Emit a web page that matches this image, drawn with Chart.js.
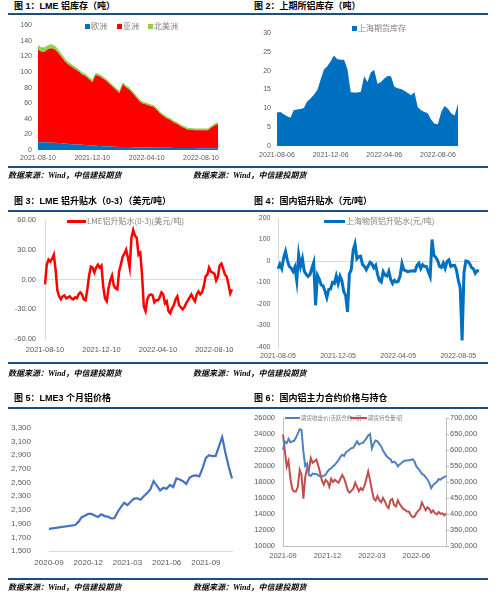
<!DOCTYPE html>
<html lang="zh-CN">
<head>
<meta charset="utf-8">
<title>铝市场数据</title>
<script src="https://cdn.jsdelivr.net/npm/chart.js@4.4.0/dist/chart.umd.min.js"></script>
<style>
  html, body { margin: 0; padding: 0; background: #fff; }
  #page { position: relative; width: 500px; height: 600px; overflow: hidden; }
  #page canvas { position: absolute; }
  .title { position: absolute; font: bold 9px "Liberation Sans", "Noto Sans CJK SC", sans-serif; color: #000; white-space: nowrap; line-height: 10px; }
  .rule { position: absolute; left: 8px; width: 480px; height: 2px; background: #1f4e79; }
  .source { position: absolute; font: italic bold 8px "Liberation Serif", "Noto Sans CJK SC", serif; color: #000; white-space: nowrap; line-height: 9px; }
  .legend { position: absolute; font: 8px "Noto Sans CJK SC", sans-serif; color: #7f7f7f; white-space: nowrap; line-height: 10px; display: flex; align-items: center; }
  .sw { display: inline-block; width: 5px; height: 5px; margin-right: 1px; }
  .ln { display: inline-block; height: 3px; margin-right: 1px; }
</style>
</head>
<body>
<div id="page">
  <!-- fila 1 -->
  <div class="title" style="left:14px;top:1px">图 1：LME 铝库存（吨）</div>
  <div class="title" style="left:254px;top:1px">图 2：上期所铝库存（吨）</div>
  <div class="rule" style="top:13px"></div>
  <canvas id="c1" width="240" height="155" style="left:0;top:15px"></canvas>
  <canvas id="c2" width="225" height="155" style="left:250px;top:15px"></canvas>
  <div class="legend" style="left:85px;top:21px"><i class="sw" style="background:#0070c0"></i>欧洲</div>
  <div class="legend" style="left:117px;top:21px"><i class="sw" style="background:#ff0000"></i>亚洲</div>
  <div class="legend" style="left:148px;top:21px"><i class="sw" style="background:#92d050"></i>北美洲</div>
  <div class="legend" style="left:352px;top:23px"><i class="sw" style="background:#0070c0"></i>上海期货库存</div>
  <div class="rule" style="top:166px"></div>
  <div class="source" style="left:8px;top:171px">数据来源：Wind，中信建投期货</div>
  <div class="source" style="left:193px;top:171px">数据来源：Wind，中信建投期货</div>

  <!-- fila 2 -->
  <div class="title" style="left:14px;top:196px">图 3：LME 铝升贴水（0-3）（美元/吨）</div>
  <div class="title" style="left:254px;top:196px">图 4：国内铝升贴水（元/吨）</div>
  <div class="rule" style="top:210px"></div>
  <canvas id="c3" width="245" height="165" style="left:0;top:205px"></canvas>
  <canvas id="c4" width="240" height="165" style="left:250px;top:205px"></canvas>
  <div class="legend" style="left:67px;top:216px"><i class="ln" style="width:19px;background:#ff0000"></i>LME铝升贴水(0-3)(美元/吨)</div>
  <div class="legend" style="left:324px;top:216px"><i class="ln" style="width:21px;background:#0070c0"></i>上海物贸铝升贴水(元/吨)</div>
  <div class="rule" style="top:362px"></div>
  <div class="source" style="left:8px;top:369px">数据来源：Wind，中信建投期货</div>
  <div class="source" style="left:193px;top:369px">数据来源：Wind，中信建投期货</div>

  <!-- fila 3 -->
  <div class="title" style="left:14px;top:393px">图 5：LME3 个月铝价格</div>
  <div class="title" style="left:254px;top:393px">图 6：国内铝主力合约价格与持仓</div>
  <div class="rule" style="top:407px"></div>
  <canvas id="c5" width="245" height="170" style="left:0;top:405px"></canvas>
  <canvas id="c6" width="240" height="170" style="left:250px;top:405px"></canvas>
  <div class="legend" style="left:285px;top:413px;font-size:5.5px"><i class="ln" style="width:15px;height:2px;background:#4f81bd"></i>期货收盘价(活跃合约):铝</div>
  <div class="legend" style="left:350px;top:413px;font-size:5.5px"><i class="ln" style="width:17px;height:2px;background:#c0504d"></i>期货持仓量:铝</div>
  <div class="rule" style="top:578px"></div>
  <div class="source" style="left:8px;top:583px">数据来源：Wind，中信建投期货</div>
  <div class="source" style="left:193px;top:583px">数据来源：Wind，中信建投期货</div>
</div>

<script>
// ============================================================
// 1. DATOS
// ============================================================

// Fig 1: LME inventario, cada 1/4 de mes desde 2021-08-10
const lmeStockTicks = ['2021-08-10', '2021-12-10', '2022-04-10', '2022-08-10'];
const lmeEurope = [10, 10, 9.8, 9.6, 9.4, 9.2, 9, 8.6, 8.2, 7.8, 7.5, 7.2, 6.9, 6.6, 6.3, 6, 5.7, 5.4, 5.1, 4.9,
  4.7, 4.5, 4.3, 4.1, 4, 3.9, 3.8, 3.7, 3.6, 3.5, 3.4, 3.3, 3.2, 3.1, 3, 3, 2.9, 2.9, 2.8, 2.8,
  2.7, 2.7, 2.6, 2.6, 2.5, 2.5, 2.5, 2.4, 2.4, 2.4, 2.3, 2.3, 2.3, 2.3];
const lmeAsia = [119, 116, 116.2, 119.9, 121.1, 119.8, 115.5, 110.4, 104.8, 101.4, 98.9, 96.3, 93.7, 90.1, 88.5,
  84.9, 81.3, 90.6, 89.9, 87.1, 84.3, 80.5, 76.7, 72.9, 69, 80.1, 76.2, 73.3, 68.4, 63.5,
  58.6, 56.1, 55.2, 53.3, 52.4, 48.4, 43.5, 40.5, 37.6, 35.6, 32.7, 30.7, 27.8, 25.8, 23.9,
  23.4, 22.9, 23, 23, 23, 23.1, 26.1, 29.1, 31.1];
const lmeNorthAmerica = [5, 5, 5, 4.5, 4.5, 4, 3.5, 3, 3, 2.8, 2.6, 2.5, 2.4, 2.3, 2.2, 2.1, 2, 2, 2, 2,
  2, 2, 2, 2, 2, 2, 2, 2, 2, 2, 2, 1.6, 1.6, 1.6, 1.6, 1.6, 1.6, 1.6, 1.6, 1.6,
  1.6, 1.6, 1.6, 1.6, 1.6, 1.6, 1.6, 1.6, 1.6, 1.6, 1.6, 1.6, 1.6, 1.6];

// Fig 2: SHFE inventario, cada 1/4 de mes desde 2021-08-06
const shfeStockTicks = ['2021-08-06', '2021-12-06', '2022-04-06', '2022-08-06'];
const shfeStock = [8.9, 9.0, 8.4, 7.9, 7.5, 9.5, 9.7, 9.8, 10.1, 11.8, 12.6, 13.6, 14.8, 17.6, 20.3,
  21.2, 22.5, 24.0, 23.0, 22.9, 22.9, 20.5, 14.3, 14.2, 14.2, 14.4, 18.5, 17.0, 19.6, 20.2,
  16.5, 17.0, 17.9, 18.6, 18.5, 15.7, 15.3, 15.1, 14.7, 14.1, 13.5, 14.3, 10.3, 9.5, 9.0,
  8.7, 7.0, 5.9, 5.8, 9.0, 10.6, 9.9, 8.6, 8.1, 11.2];

// Fig 3: LME升贴水 (0-3), cada 1/8 de mes desde 2021-08-10
const lmeSpreadTicks = ['2021-08-10', '2021-12-10', '2022-04-10', '2022-08-10'];
const lmeSpread = [-5, 15, 20, 18, 21, 25, 10, -11, -17, -20,
  -17, -16, -19, -18, -17, -19, -20, -18, -19, -15,
  -13, -15, -20, -21, -10, 4, 13, 12, 7, 12,
  15, 12, 14, -7, -19, -22, -9, -1, 4, -6,
  -9, -10, 8, 15, 23, 26, 30, 22, 12, 42,
  50, 44, 42, 25, 27, 5, -27, -32, -20, -16,
  -15, -16, -23, -21, -21, -18, -13, -15, -24, -22,
  -32, -34, -29, -26, -20, -17, -26, -28, -30, -28,
  -24, -21, -18, -15, -19, -22, -15, -12, -15, -13,
  -7, 3, 5, 12, 8, 7, 6, -1, 3, 14,
  16, 11, 5, 3, -5, -14, -10];

// Fig 4: 上海物贸升贴水, cada 1/8 de mes desde 2021-08-05
const shSpreadTicks = ['2021-08-05', '2021-12-05', '2022-04-05', '2022-08-05'];
const shSpread = [-36, -15, -35, 15, 45, 3, -25, -33, -48, -28,
  -92, 30, -25, 11, -48, -62, -72, -64, -35, -8,
  -206, -67, -85, -111, -115, -140, -170, -132, -130, -100,
  -105, -70, -105, -70, -92, -142, -160, -237, -60, -40,
  50, 80, 10, 20, 22, -17, -25, -41, -23, -6,
  -13, -32, -20, -62, -90, -98, -50, -66, -70, -48,
  -86, -105, -90, -98, -95, -70, -12, -42, -45, -50,
  -48, -46, -45, -47, -20, -10, -35, -17, -25, -25,
  -50, -72, 100, 26, 17, 2, -25, -30, -10, -34,
  -2, 5, -26, -21, -20, -42, -90, -125, -369, -55,
  0, -2, -12, -30, -36, -57, -45, -48];

// Fig 5: LME 3M, cada 1/4 de mes desde 2020-09 (hueco sin datos al inicio)
const lmePriceTicks = ['2020-09', '2020-12', '2021-03', '2021-06', '2021-09'];
const lmePrice = [1823, null, null, null, null, null, null, null,
  1880, 1925, 1994, 2015, 2042, 2042, 2020, 1998, 2035, 2010, 2002, 1975,
  1980, 2070, 2140, 2205, 2170, 2220, 2265, 2270, 2250, 2300, 2345, 2400,
  2520, 2455, 2386, 2423, 2410, 2465, 2435, 2560, 2545, 2520, 2480, 2570,
  2600, 2605, 2590, 2710, 2860, 2900, 2885, 2890, 3030, 3165, 2930, 2730, 2560];

// Fig 6: SHFE 主力合约, cada 1/8 de mes desde 2021-09
const shfeTicks = ['2021-09', '2021-12', '2022-03', '2022-06'];
const shfePrice = [22030, 23050, 22850, 23400, 22950, 23075, 23150, 23550, 24050, 24600,
  24500, 21800, 20000, 20300, 18900, 18750, 19050, 19000, 19000, 18850,
  18700, 18690, 18770, 18900, 19300, 19590, 19700, 19980, 20150, 20450,
  20720, 21150, 21400, 21270, 21720, 21880, 22060, 22240, 22290, 22700,
  23100, 22700, 22830, 22860, 23150, 23430, 23830, 24000, 22200, 22800,
  23180, 23080, 22770, 22450, 21920, 21550, 21220, 21000, 20840, 20440,
  20550, 20360, 19960, 20200, 20380, 20580, 20680, 20700, 20720, 20770,
  20850, 20550, 19950, 19680, 19400, 19000, 18900, 18600, 18320, 17900,
  17230, 17620, 17820, 18000, 18350, 18300, 18480, 18600, 18780];
const shfeOpenInterest = [647800, 598000, 548000, 566000, 510000, 478000, 470200, 470200, 485000, 538000,
  522000, 448000, 515000, 543000, 537000, 575000, 560000, 565000, 570000, 552000,
  530000, 505000, 492000, 506800, 501000, 485000, 510000, 500000, 507000, 502000,
  498000, 510000, 522000, 511000, 493000, 473000, 467000, 473000, 480000, 498000,
  485000, 471000, 480700, 475000, 488000, 510000, 533000, 505000, 475000, 448000,
  442000, 456000, 443000, 437000, 450000, 440000, 425000, 418500, 443000, 447000,
  428000, 424000, 443000, 431000, 423200, 415000, 412800, 407600, 407000, 396000,
  390000, 392000, 403000, 410000, 416000, 436000, 424000, 412000, 421000, 416000,
  404000, 411000, 403000, 399000, 406000, 400500, 402000, 396000, 402000];

// ============================================================
// 2. HELPERS
// ============================================================
const TICK_GRAY = '#595959';
const AXIS_GRAY = '#d9d9d9';

Chart.defaults.animation = false;
Chart.defaults.font.family = '"Liberation Sans", "Noto Sans CJK SC", sans-serif';

// etiquetas del eje: solo las fechas que se muestran, el resto vacío
function buildLabels(ticks, every, count) {
  const labels = new Array(count).fill('');
  ticks.forEach((t, i) => { labels[i * every] = t; });
  return labels;
}

function xScale(size, pad, height, borderColor) {
  return {
    grid: { display: false, drawTicks: false },
    border: { display: !!borderColor, color: borderColor || AXIS_GRAY },
    ticks: { autoSkip: false, maxRotation: 0, minRotation: 0, padding: pad, color: TICK_GRAY, font: { size: size } },
    afterFit: s => { s.height = height; }
  };
}

function yScale(min, max, step, size, pad, width, fmt) {
  return {
    min: min, max: max,
    grid: { display: false, drawTicks: false },
    border: { display: false },
    ticks: { stepSize: step, padding: pad, color: TICK_GRAY, font: { size: size }, callback: fmt || (v => v) },
    afterFit: s => { s.width = width; }
  };
}

const noPlugins = { legend: { display: false }, tooltip: { enabled: false } };
const comma = v => v.toLocaleString('en-US');

// ============================================================
// 3. GRÁFICOS
// ============================================================

// Fig 1
new Chart(document.getElementById('c1'), {
  type: 'line',
  data: {
    labels: buildLabels(lmeStockTicks, 16, lmeAsia.length),
    datasets: [
      { label: '欧洲', data: lmeEurope, fill: 'origin', backgroundColor: '#0070c0', borderWidth: 0, pointRadius: 0 },
      { label: '亚洲', data: lmeAsia, fill: '-1', backgroundColor: '#ff0000', borderWidth: 0, pointRadius: 0 },
      { label: '北美洲', data: lmeNorthAmerica, fill: '-1', backgroundColor: '#92d050', borderColor: '#92d050', borderWidth: 1, pointRadius: 0 }
    ]
  },
  options: {
    responsive: false,
    layout: { padding: { top: 8, right: 22, bottom: 6, left: 0 } },
    plugins: noPlugins,
    scales: {
      x: xScale(7, 4, 14),
      y: Object.assign(yScale(0, 160, 20, 7, 6, 38), { stacked: true })
    }
  }
});

// Fig 2
new Chart(document.getElementById('c2'), {
  type: 'line',
  data: {
    labels: buildLabels(shfeStockTicks, 16, shfeStock.length),
    datasets: [
      { label: '上海期货库存', data: shfeStock, fill: 'origin', backgroundColor: '#0070c0', borderWidth: 0, pointRadius: 0 }
    ]
  },
  options: {
    responsive: false,
    layout: { padding: { top: 18, right: 17, bottom: 10, left: 0 } },
    plugins: noPlugins,
    scales: {
      x: xScale(7, 5, 14),
      y: yScale(0, 30, 5, 7, 6, 27)
    }
  }
});

// eje Y con solo la línea del cero
function zeroLineY(min, max, step, size, pad, width, fmt) {
  const y = yScale(min, max, step, size, pad, width, fmt);
  y.grid = { display: true, drawTicks: false, color: c => (c.tick && c.tick.value === 0) ? AXIS_GRAY : 'rgba(0,0,0,0)' };
  y.border = { display: true, color: AXIS_GRAY };
  return y;
}

// Fig 3
new Chart(document.getElementById('c3'), {
  type: 'line',
  data: {
    labels: buildLabels(lmeSpreadTicks, 32, lmeSpread.length),
    datasets: [
      { label: 'LME铝升贴水(0-3)(美元/吨)', data: lmeSpread, borderColor: '#ff0000', borderWidth: 2.5, pointRadius: 0, tension: 0 }
    ]
  },
  options: {
    responsive: false,
    layout: { padding: { top: 15, right: 13, bottom: 15, left: 0 } },
    plugins: noPlugins,
    scales: {
      x: xScale(7.5, 6, 16),
      y: zeroLineY(-60, 60, 30, 7.5, 9, 45, v => v.toFixed(2))
    }
  }
});

// Fig 4
new Chart(document.getElementById('c4'), {
  type: 'line',
  data: {
    labels: buildLabels(shSpreadTicks, 32, shSpread.length),
    datasets: [
      { label: '上海物贸铝升贴水(元/吨)', data: shSpread, borderColor: '#0070c0', borderWidth: 3, pointRadius: 0, tension: 0 }
    ]
  },
  options: {
    responsive: false,
    layout: { padding: { top: 13, right: 11, bottom: 7, left: 0 } },
    plugins: noPlugins,
    scales: {
      x: xScale(7, 4.5, 16),
      y: zeroLineY(-400, 200, 100, 7, 7.5, 28)
    }
  }
});

// Fig 5
new Chart(document.getElementById('c5'), {
  type: 'line',
  data: {
    labels: buildLabels(lmePriceTicks, 12, lmePrice.length),
    datasets: [
      { label: 'LME3个月铝', data: lmePrice, spanGaps: true, borderColor: '#4472c4', borderWidth: 2.2, pointRadius: 0, tension: 0 }
    ]
  },
  options: {
    responsive: false,
    layout: { padding: { top: 16, right: 13, bottom: 6, left: 0 } },
    plugins: noPlugins,
    scales: {
      x: xScale(8, 7, 18, AXIS_GRAY),
      y: yScale(1500, 3300, 200, 8, 18, 49, comma)
    }
  }
});

// Fig 6 (dos ejes)
const y6 = yScale(10000, 26000, 2000, 7.5, 8, 33);
y6.border = { display: true, color: '#bfbfbf' };
const y6r = yScale(300000, 700000, 50000, 7.5, 1, 44, comma);
y6r.position = 'right';
y6r.grid = { display: true, drawOnChartArea: false, drawTicks: true, tickLength: 3, color: '#bfbfbf' };
y6r.border = { display: true, color: '#bfbfbf' };

new Chart(document.getElementById('c6'), {
  type: 'line',
  data: {
    labels: buildLabels(shfeTicks, 24, shfePrice.length),
    datasets: [
      { label: '期货收盘价(活跃合约):铝', data: shfePrice, yAxisID: 'y', borderColor: '#4f81bd', borderWidth: 2, pointRadius: 0, tension: 0 },
      { label: '期货持仓量:铝', data: shfeOpenInterest, yAxisID: 'y1', borderColor: '#c0504d', borderWidth: 2, pointRadius: 0, tension: 0 }
    ]
  },
  options: {
    responsive: false,
    layout: { padding: { top: 13, right: 0, bottom: 13, left: 0 } },
    plugins: noPlugins,
    scales: {
      x: xScale(7.5, 5.5, 16, '#bfbfbf'),
      y: y6,
      y1: y6r
    }
  }
});
</script>
</body>
</html>
